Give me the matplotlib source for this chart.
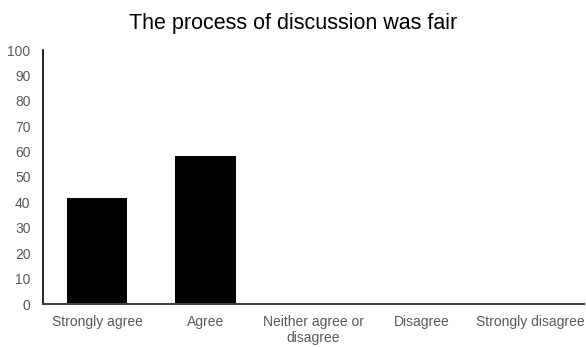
import matplotlib
matplotlib.use("Agg")
import matplotlib.pyplot as plt

categories = ["Strongly agree", "Agree", "Neither agree or\ndisagree", "Disagree", "Strongly disagree"]
values = [41.7, 58.3, 0, 0, 0]
yticks = list(range(0, 101, 10))

plt.rcParams['font.family'] = ['Liberation Sans', 'DejaVu Sans']

fig = plt.figure(figsize=(5.86, 3.47), dpi=100)
ax = fig.add_axes([43/586, 43/347, 541/586, 254/347])
x = range(len(categories))
ax.bar(x, values, width=0.56, color="black")
ax.set_xlim(-0.5, len(categories) - 0.5)
ax.set_ylim(0, 100)
ax.set_yticks(yticks)
ax.set_xticks(list(x))
ax.set_xticklabels(categories, fontsize=10, color="#595959", linespacing=1.15)
ax.tick_params(axis='y', labelsize=10, labelcolor="#595959", length=0, pad=9)
ax.tick_params(axis='x', length=0, pad=8)
for s in ["top", "right"]:
    ax.spines[s].set_visible(False)
ax.spines["left"].set_color("black")
ax.spines["left"].set_linewidth(1.2)
ax.spines["bottom"].set_color("#404040")
ax.spines["bottom"].set_linewidth(1.5)
fig.text(0.5, 1 - 24/347, "The process of discussion was fair", ha="center", va="center", fontsize=15.5, color="black")
fig.savefig("out.png", dpi=100)
